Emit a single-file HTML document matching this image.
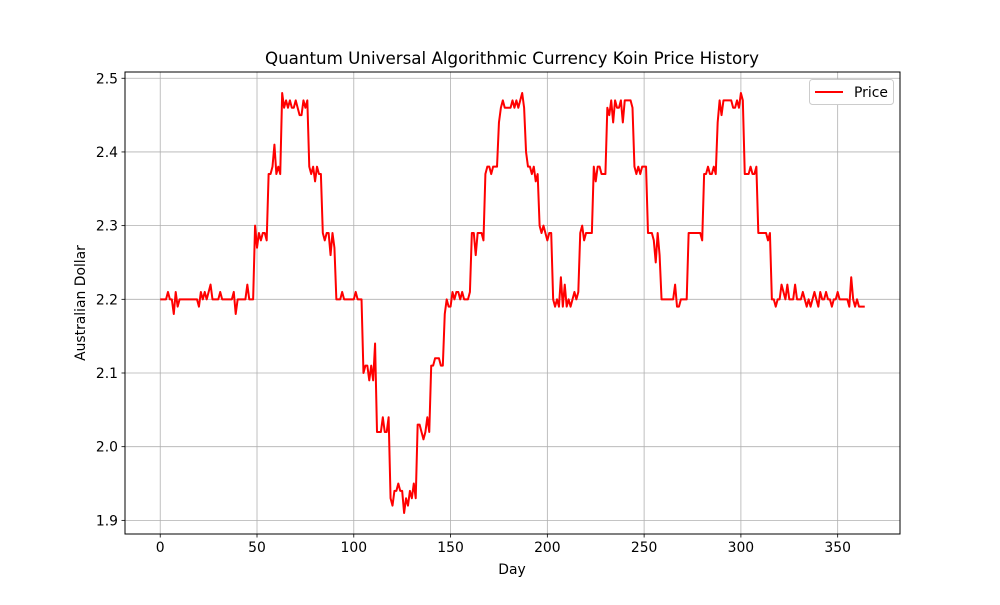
<!DOCTYPE html>
<html><head><meta charset="utf-8"><style>
body{margin:0;background:#fff;}
svg text{font-family:"DejaVu Sans","Liberation Sans",sans-serif;fill:#000;}
</style></head><body>
<svg id="chart" width="1000" height="600" xmlns="http://www.w3.org/2000/svg">
<rect width="1000" height="600" fill="#fff"/>
<g id="grid"></g>
<g id="series"></g>
<rect x="125" y="72" width="775" height="462" fill="none" stroke="#000" stroke-width="1"/>
<g id="xticks"></g>
<g id="yticks"></g>
<text x="512" y="64" font-size="16.7" text-anchor="middle">Quantum Universal Algorithmic Currency Koin Price History</text>
<text x="512" y="574" font-size="13.9" text-anchor="middle">Day</text>
<text transform="translate(85,303) rotate(-90)" font-size="13.9" text-anchor="middle">Australian Dollar</text>
<g>
<rect x="809.5" y="79.5" width="84" height="25" rx="3" fill="#fff" stroke="#ccc"/>
<line x1="815" y1="92" x2="843" y2="92" stroke="#f00" stroke-width="2"/>
<text x="854" y="97" font-size="13.9">Price</text>
</g>
</svg>
<script>
const xTicks=[0,50,100,150,200,250,300,350];
const yTicks=[1.9,2.0,2.1,2.2,2.3,2.4,2.5];
const yTickLabels=["1.9","2.0","2.1","2.2","2.3","2.4","2.5"];
const prices=[
2.20,2.20,2.20,2.20,2.21,2.20,2.20,2.18,2.21,2.19,
2.20,2.20,2.20,2.20,2.20,2.20,2.20,2.20,2.20,2.20,
2.19,2.21,2.20,2.21,2.20,2.21,2.22,2.20,2.20,2.20,
2.20,2.21,2.20,2.20,2.20,2.20,2.20,2.20,2.21,2.18,
2.20,2.20,2.20,2.20,2.20,2.22,2.20,2.20,2.20,2.30,
2.27,2.29,2.28,2.29,2.29,2.28,2.37,2.37,2.38,2.41,
2.37,2.38,2.37,2.48,2.46,2.47,2.46,2.47,2.46,2.46,
2.47,2.46,2.45,2.45,2.47,2.46,2.47,2.38,2.37,2.38,
2.36,2.38,2.37,2.37,2.29,2.28,2.29,2.29,2.26,2.29,
2.27,2.20,2.20,2.20,2.21,2.20,2.20,2.20,2.20,2.20,
2.20,2.21,2.20,2.20,2.20,2.10,2.11,2.11,2.09,2.11,
2.09,2.14,2.02,2.02,2.02,2.04,2.02,2.02,2.04,1.93,
1.92,1.94,1.94,1.95,1.94,1.94,1.91,1.93,1.92,1.94,
1.93,1.95,1.93,2.03,2.03,2.02,2.01,2.02,2.04,2.02,
2.11,2.11,2.12,2.12,2.12,2.11,2.11,2.18,2.20,2.19,
2.19,2.21,2.20,2.21,2.21,2.20,2.21,2.20,2.20,2.20,
2.21,2.29,2.29,2.26,2.29,2.29,2.29,2.28,2.37,2.38,
2.38,2.37,2.38,2.38,2.38,2.44,2.46,2.47,2.46,2.46,
2.46,2.46,2.47,2.46,2.47,2.46,2.47,2.48,2.46,2.40,
2.38,2.38,2.37,2.38,2.36,2.37,2.30,2.29,2.30,2.29,
2.28,2.29,2.29,2.20,2.19,2.20,2.19,2.23,2.19,2.22,
2.19,2.20,2.19,2.20,2.21,2.20,2.21,2.29,2.30,2.28,
2.29,2.29,2.29,2.29,2.38,2.36,2.38,2.38,2.37,2.37,
2.37,2.46,2.45,2.47,2.44,2.47,2.46,2.46,2.47,2.44,
2.47,2.47,2.47,2.47,2.46,2.38,2.37,2.38,2.37,2.38,
2.38,2.38,2.29,2.29,2.29,2.28,2.25,2.29,2.26,2.20,
2.20,2.20,2.20,2.20,2.20,2.20,2.22,2.19,2.19,2.20,
2.20,2.20,2.20,2.29,2.29,2.29,2.29,2.29,2.29,2.29,
2.28,2.37,2.37,2.38,2.37,2.37,2.38,2.37,2.44,2.47,
2.45,2.47,2.47,2.47,2.47,2.47,2.46,2.46,2.47,2.46,
2.48,2.47,2.37,2.37,2.37,2.38,2.37,2.37,2.38,2.29,
2.29,2.29,2.29,2.29,2.28,2.29,2.20,2.20,2.19,2.20,
2.20,2.22,2.21,2.20,2.22,2.20,2.20,2.20,2.22,2.20,
2.20,2.20,2.21,2.20,2.19,2.20,2.19,2.20,2.21,2.20,
2.19,2.21,2.20,2.20,2.21,2.20,2.20,2.19,2.20,2.20,
2.21,2.20,2.20,2.20,2.20,2.20,2.19,2.23,2.20,2.19,
2.20,2.19,2.19,2.19,2.19
];
const NS="http://www.w3.org/2000/svg";
const L=125,R=900,T=72,B=534;
const xMin=-18.2,xMax=382.2;
const yMinV=1.8815,yMaxV=2.5085;
const xs=d=>L+(d-xMin)/(xMax-xMin)*(R-L);
const ys=v=>B-(v-yMinV)/(yMaxV-yMinV)*(B-T);
function mk(tag,attrs,parent){const e=document.createElementNS(NS,tag);for(const k in attrs)e.setAttribute(k,attrs[k]);parent.appendChild(e);return e;}
const grid=document.getElementById('grid'),gx=document.getElementById('xticks'),gy=document.getElementById('yticks');
xTicks.forEach(t=>{const x=xs(t);
 const g=mk('line',{x1:x,x2:x,y1:T,y2:B,stroke:'#b0b0b0','stroke-width':0.8},grid);
 
 
 const tk=mk('line',{x1:x,x2:x,y1:B,y2:B+3.5,stroke:'#000','stroke-width':0.8},gx);
 
 
 const tx=mk('text',{x:x,y:B+18,'font-size':13.9,'text-anchor':'middle'},gx);
 tx.textContent=String(t);
 
 
});
yTicks.forEach((t,i)=>{const y=ys(t);
 const g=mk('line',{x1:L,x2:R,y1:y,y2:y,stroke:'#b0b0b0','stroke-width':0.8},grid);
 
 
 const tk=mk('line',{x1:L-3.5,x2:L,y1:y,y2:y,stroke:'#000','stroke-width':0.8},gy);
 
 
 const tx=mk('text',{x:L-7,y:y+5,'font-size':13.9,'text-anchor':'end'},gy);
 tx.textContent=yTickLabels[i];
 
 
});
const pts=prices.map((v,i)=>xs(i).toFixed(2)+','+ys(v).toFixed(2)).join(' ');
const line=mk('polyline',{points:pts,fill:'none',stroke:'#f00','stroke-width':2,'stroke-linejoin':'round'},document.getElementById('series'));


</script>
</body></html>
